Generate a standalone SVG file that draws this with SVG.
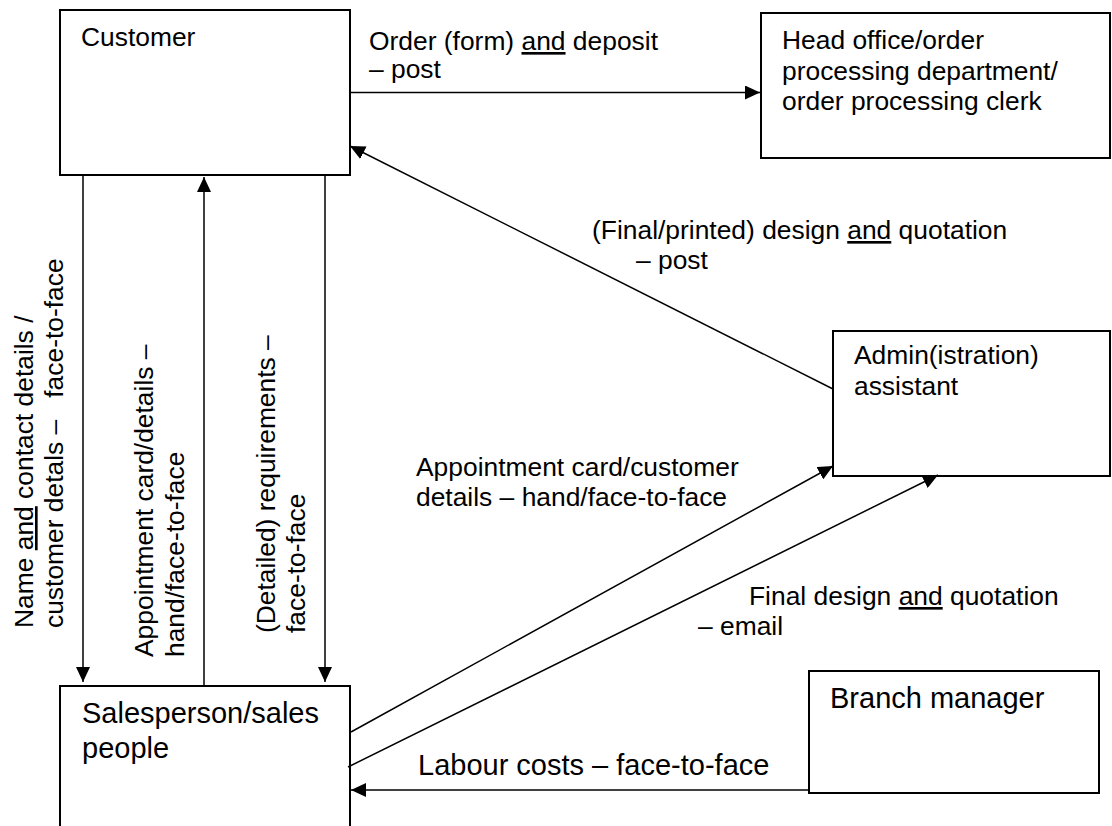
<svg xmlns="http://www.w3.org/2000/svg" width="1112" height="826" viewBox="0 0 1112 826">
  <style>
    .box { fill: #ffffff; stroke: #000000; stroke-width: 2; }
    .t { font-family: "Liberation Sans", Arial, sans-serif; font-size: 26.4px; fill: #000000; }
    .tl { font-family: "Liberation Sans", Arial, sans-serif; font-size: 29px; fill: #000000; }
    .u { text-decoration: underline; }
    .c { stroke: #000000; stroke-width: 1.5; fill: none; }
    .ca { stroke: #000000; stroke-width: 1.5; fill: none; marker-end: url(#ah); }
  </style>
  <defs>
    <marker id="ah" viewBox="0 0 15 14" refX="15" refY="7" markerWidth="15" markerHeight="14" markerUnits="userSpaceOnUse" orient="auto">
      <path d="M0,0 L15,7 L0,14 z" fill="#000000"/>
    </marker>
  </defs>
  <rect width="1112" height="826" fill="#ffffff"/>

  <g id="customer">
    <rect class="box" x="60" y="10" width="290" height="165"/>
    <text class="t" x="81" y="46">Customer</text>
  </g>

  <g id="head-office">
    <rect class="box" x="761" y="13" width="349" height="145"/>
    <text class="t" x="782" y="49">Head office/order</text>
    <text class="t" x="782" y="79.5">processing department/</text>
    <text class="t" x="782" y="110">order processing clerk</text>
  </g>

  <g id="admin-assistant">
    <rect class="box" x="833" y="331" width="277" height="145"/>
    <text class="t" x="854" y="364">Admin(istration)</text>
    <text class="t" x="854" y="395">assistant</text>
  </g>

  <g id="salesperson">
    <rect class="box" x="60" y="686" width="290" height="160"/>
    <text class="tl" x="82" y="723">Salesperson/sales</text>
    <text class="tl" x="82" y="758">people</text>
  </g>

  <g id="branch-manager">
    <rect class="box" x="809" y="671" width="290" height="122"/>
    <text class="tl" x="830" y="708">Branch manager</text>
  </g>

  <g id="connectors">
    <line class="ca" x1="350" y1="92.5" x2="760" y2="92.5"/>
    <line class="ca" x1="833" y1="389" x2="350" y2="146"/>
    <line class="ca" x1="83" y1="175" x2="83" y2="682"/>
    <line class="ca" x1="204" y1="686" x2="204" y2="177"/>
    <line class="ca" x1="325" y1="175" x2="325" y2="682"/>
    <line class="ca" x1="351" y1="732" x2="833" y2="466"/>
    <line class="ca" x1="348" y1="767" x2="938" y2="475"/>
    <line class="ca" x1="809" y1="790" x2="351" y2="790"/>
  </g>

  <g id="labels">
    <text class="t" x="369" y="50">Order (form) <tspan class="u">and</tspan> deposit</text>
    <text class="t" x="369" y="78">– post</text>

    <text class="t" x="592" y="239">(Final/printed) design <tspan class="u">and</tspan> quotation</text>
    <text class="t" x="636" y="269">– post</text>

    <text class="t" x="416" y="476">Appointment card/customer</text>
    <text class="t" x="416" y="506">details – hand/face-to-face</text>

    <text class="t" x="749" y="605">Final design <tspan class="u">and</tspan> quotation</text>
    <text class="t" x="698" y="635">– email</text>

    <text class="tl" x="418" y="775">Labour costs – face-to-face</text>

    <text class="t" transform="translate(33,628) rotate(-90)">Name <tspan class="u">and</tspan> contact details /</text>
    <text class="t" transform="translate(63,628) rotate(-90)" xml:space="preserve" style="white-space:pre">customer detals –   face-to-face</text>

    <text class="t" transform="translate(153,657) rotate(-90)">Appointment card/details –</text>
    <text class="t" transform="translate(184,657) rotate(-90)">hand/face-to-face</text>

    <text class="t" transform="translate(275,633) rotate(-90)">(Detailed) requirements –</text>
    <text class="t" transform="translate(305,633) rotate(-90)">face-to-face</text>
  </g>
</svg>
